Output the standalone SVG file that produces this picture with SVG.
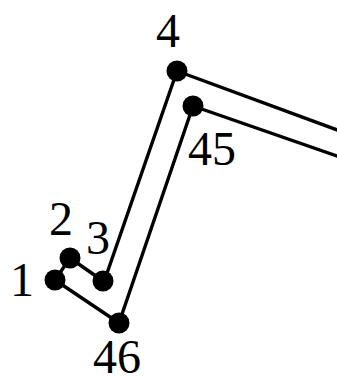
<svg xmlns="http://www.w3.org/2000/svg" width="337" height="378" viewBox="0 0 337 378">
<style>
.c{stroke:#000;stroke-width:3.4;fill:none;stroke-linecap:round}
.d{fill:#000}
text{font-family:"Liberation Serif","Times New Roman",serif;font-size:48px;fill:#000}
</style>
<rect width="337" height="378" fill="#fff"/>
<g id="connectors">
<line class="c" x1="55" y1="280" x2="70" y2="258"/>
<line class="c" x1="70" y1="258" x2="103" y2="281"/>
<line class="c" x1="105" y1="279" x2="177" y2="71"/>
<line class="c" x1="177" y1="71" x2="340" y2="131"/>
<line class="c" x1="193" y1="106" x2="340" y2="157"/>
<line class="c" x1="193" y1="106" x2="119" y2="323"/>
<line class="c" x1="55" y1="280" x2="119" y2="323"/>
</g>
<g id="n1"><circle class="d" cx="55" cy="280" r="10.5"/><text x="10" y="296">1</text></g>
<g id="n2"><circle class="d" cx="70" cy="258" r="10.5"/><text x="49" y="235">2</text></g>
<g id="n3"><circle class="d" cx="103" cy="281" r="10.5"/><text x="86" y="254">3</text></g>
<g id="n4"><circle class="d" cx="177" cy="71" r="10.5"/><text x="156" y="47">4</text></g>
<g id="n45"><circle class="d" cx="193" cy="106" r="10.5"/><text x="188" y="165">45</text></g>
<g id="n46"><circle class="d" cx="119" cy="323" r="10.5"/><text x="93" y="373">46</text></g>
</svg>
